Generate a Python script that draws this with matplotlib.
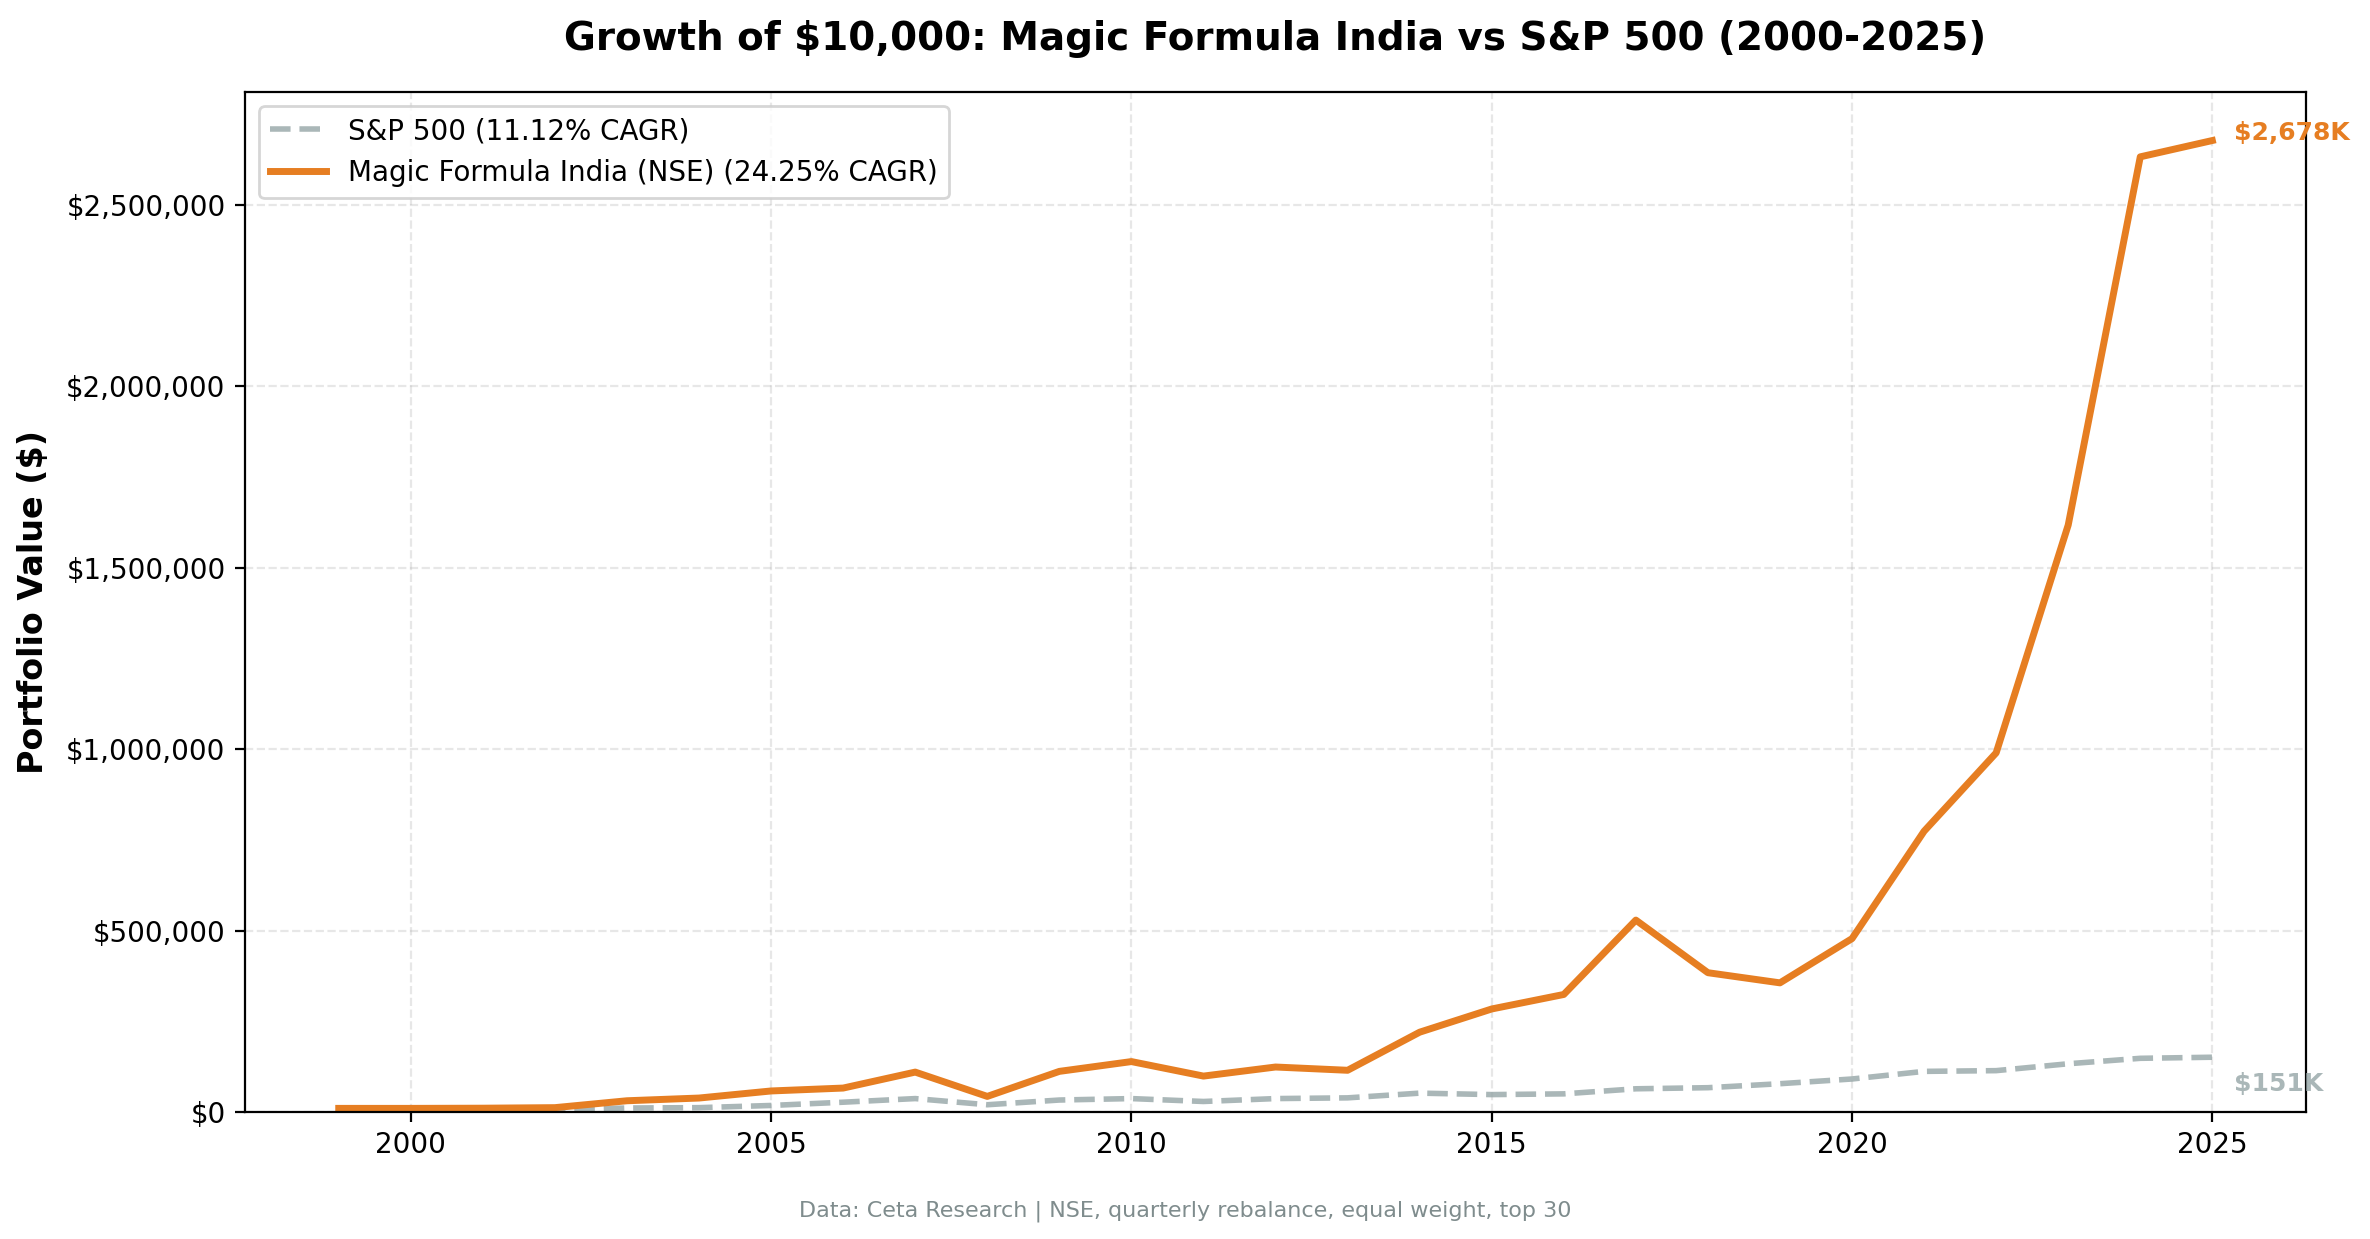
import matplotlib
matplotlib.use('Agg')
import matplotlib.pyplot as plt
from matplotlib.ticker import FuncFormatter

years = list(range(1999, 2026))
magic_values = [10000, 10000, 10500, 12000, 31000, 38500, 58000, 66000, 110000, 43000,
                112000, 139000, 99000, 124000, 115000, 220000, 284000, 324000, 529000,
                384000, 356000, 478000, 774000, 990000, 1618000, 2633000, 2678000]
sp500_values = [10000, 9200, 8000, 6500, 11000, 12000, 18000, 27000, 37000, 20000,
                33000, 37000, 29000, 37000, 39000, 52000, 48000, 50000, 64000,
                67000, 78000, 91000, 112000, 114000, 133000, 148000, 151000]

magic_label = 'Magic Formula India (NSE) (24.25% CAGR)'
sp500_label = 'S&P 500 (11.12% CAGR)'
magic_color = '#e67e22'
sp500_color = '#95a5a6'

fig = plt.figure(figsize=(11.85, 6.195), dpi=200)
ax = fig.add_axes([0.1034, 0.1025, 0.8696, 0.8232])

ax.plot(years, sp500_values, color=sp500_color, linestyle='--', linewidth=2, alpha=0.8, label=sp500_label)
ax.plot(years, magic_values, color=magic_color, linewidth=2.5, label=magic_label)

ax.set_ylim(bottom=0)
ax.yaxis.set_major_formatter(FuncFormatter(lambda v, p: f'${v:,.0f}'))
ax.grid(True, linestyle='--', alpha=0.3)
ax.set_ylabel('Portfolio Value ($)', fontsize=12, fontweight='bold', labelpad=6)
ax.set_title('Growth of $10,000: Magic Formula India vs S&P 500 (2000-2025)',
             fontsize=14, fontweight='bold', pad=15)
ax.legend(loc='upper left', fontsize=10)

# end labels
ax.text(years[-1] + 0.3, 2700000, f'${magic_values[-1] / 1000:,.0f}K', color=magic_color,
        fontsize=9, fontweight='bold', va='center')
ax.text(years[-1] + 0.3, 78000, f'${sp500_values[-1] / 1000:,.0f}K', color=sp500_color,
        fontsize=9, fontweight='bold', va='center', alpha=0.8)

fig.text(0.5, 0.018, 'Data: Ceta Research | NSE, quarterly rebalance, equal weight, top 30',
         ha='center', fontsize=8, color='#7f8c8d')

plt.savefig('out.png', dpi=200)
plt.close()
